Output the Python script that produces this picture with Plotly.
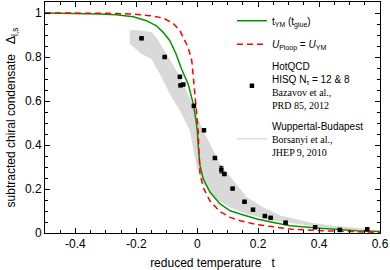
import plotly.graph_objects as go

# t_YM (t_glue) curve
green_x = [-0.5, -0.4, -0.32, -0.266, -0.21, -0.167, -0.134, -0.112, -0.09, -0.07, -0.051,
           -0.03, -0.013, -0.004, 0.0, 0.003, 0.009, 0.02, 0.042, 0.075, 0.108, 0.141,
           0.196, 0.25, 0.305, 0.415, 0.525, 0.6]
green_y = [1.0, 0.999, 0.996, 0.992, 0.983, 0.965, 0.942, 0.912, 0.874, 0.815, 0.743,
           0.677, 0.586, 0.51, 0.465, 0.397, 0.306, 0.245, 0.185, 0.132, 0.101, 0.086,
           0.064, 0.048, 0.033, 0.021, 0.010, 0.007]

# U_Ploop = U_YM curve
red_x = [-0.5, -0.3, -0.21, -0.156, -0.112, -0.079, -0.057, -0.04, -0.03, -0.018, -0.008,
         -0.002, 0.003, 0.005, 0.009, 0.02, 0.042, 0.075, 0.108, 0.141, 0.196, 0.25,
         0.305, 0.415, 0.525, 0.6]
red_y = [1.0, 0.999, 0.995, 0.988, 0.977, 0.953, 0.919, 0.874, 0.844, 0.783, 0.647,
         0.556, 0.465, 0.38, 0.27, 0.205, 0.145, 0.097, 0.071, 0.056, 0.038, 0.028,
         0.018, 0.010, 0.005, 0.003]

# HotQCD HISQ data
hot_x = [-0.183, -0.107, -0.057, -0.055, -0.046, -0.011, 0.022, 0.058, 0.079, 0.089,
         0.116, 0.155, 0.183, 0.222, 0.241, 0.29, 0.387, 0.468, 0.558]
hot_y = [0.885, 0.80, 0.71, 0.671, 0.675, 0.578, 0.467, 0.341, 0.288, 0.268,
         0.202, 0.142, 0.106, 0.077, 0.069, 0.047, 0.026, 0.014, 0.017]
hot_err = [0, 0, 0, 0, 0, 0, 0, 0, 0.015, 0, 0, 0, 0, 0, 0, 0, 0, 0, 0]

# Wuppertal-Budapest band (upper edge left->right, lower edge right->left)
band_up_x = [-0.222, -0.19, -0.15, -0.134, -0.101, -0.068, -0.035, -0.002, 0.02, 0.042,
             0.075, 0.119, 0.163, 0.218, 0.273, 0.371, 0.45, 0.55]
band_up_y = [0.922, 0.922, 0.912, 0.889, 0.814, 0.738, 0.647, 0.541, 0.465, 0.405,
             0.314, 0.238, 0.162, 0.116, 0.079, 0.048, 0.032, 0.02]
band_lo_x = [0.55, 0.45, 0.371, 0.25, 0.163, 0.108, 0.053, 0.02, -0.002, -0.013,
             -0.024, -0.057, -0.09, -0.123, -0.15, -0.183, -0.222]
band_lo_y = [0.012, 0.019, 0.033, 0.056, 0.086, 0.116, 0.162, 0.223, 0.298, 0.374,
             0.465, 0.556, 0.632, 0.723, 0.79, 0.814, 0.86]

FONT = "Liberation Sans, Arial, sans-serif"
SERIF = "Liberation Serif, Times New Roman, serif"

fig = go.Figure()

fig.add_trace(go.Scatter(
    x=band_up_x + band_lo_x, y=band_up_y + band_lo_y,
    fill="toself", fillcolor="rgb(217,217,217)", line=dict(width=0),
    mode="lines", showlegend=False, hoverinfo="skip"))

fig.add_trace(go.Scatter(
    x=green_x, y=green_y, mode="lines", legendgroup="g1",
    line=dict(color="rgb(0,150,0)", width=1.5),
    name="t<sub>YM</sub> (t<sub>glue</sub>)"))

fig.add_trace(go.Scatter(
    x=red_x, y=red_y, mode="lines", legendgroup="g2",
    line=dict(color="rgb(255,0,0)", width=1.5, dash="6px,4px"),
    name="<i>U</i><sub>Ploop</sub> = <i>U</i><sub>YM</sub>"))

fig.add_trace(go.Scatter(
    x=hot_x, y=hot_y, mode="markers", legendgroup="g3",
    marker=dict(symbol="square", size=4.5, color="black"),
    error_y=dict(type="data", array=hot_err, color="black", thickness=1, width=2),
    name=("HotQCD<br>HISQ N<sub>τ</sub> = 12 &amp; 8<br>"
          f"<span style='font-family:{SERIF}'>Bazavov et al.,</span><br>"
          f"<span style='font-family:{SERIF}'>PRD 85, 2012</span>")))

fig.add_trace(go.Scatter(
    x=[None], y=[None], mode="lines", legendgroup="g4",
    line=dict(color="rgb(220,220,220)", width=1.5),
    name=("Wuppertal-Budapest<br>"
          f"<span style='font-family:{SERIF}'>Borsanyi et al.,</span><br>"
          f"<span style='font-family:{SERIF}'>JHEP 9, 2010</span>")))

axis_common = dict(
    showline=True, linecolor="black", linewidth=1, mirror="allticks",
    ticks="inside", ticklen=5, tickwidth=1, tickcolor="black",
    showgrid=False, zeroline=False,
    tickfont=dict(family=FONT, size=12, color="black"),
    minor=dict(ticks="inside", ticklen=3, tickwidth=1, tickcolor="black", dtick=0.05),
)

fig.update_xaxes(
    range=[-0.5, 0.6], tickvals=[-0.4, -0.2, 0, 0.2, 0.4, 0.6],
    ticktext=["-0.4", "-0.2", "0", "0.2", "0.4", "0.6"],
    title=dict(text="reduced temperature   t", font=dict(family=FONT, size=12, color="black"),
               standoff=8),
    **axis_common)
fig.update_yaxes(
    range=[0, 1.05], tickvals=[0, 0.2, 0.4, 0.6, 0.8, 1.0],
    ticktext=["0", "0.2", "0.4", "0.6", "0.8", "1"],
    title=dict(text="subtracted chiral condensate   Δ<sub>l,s</sub>",
               font=dict(family=FONT, size=12, color="black"), standoff=6),
    **axis_common)

fig.update_layout(
    width=390, height=270,
    margin=dict(l=45, r=10, t=2, b=37),
    plot_bgcolor="white", paper_bgcolor="white",
    font=dict(family=FONT, size=10, color="black"),
    legend=dict(x=0.558, y=0.982, xanchor="left", yanchor="top",
                bgcolor="rgba(0,0,0,0)", borderwidth=0,
                font=dict(family=FONT, size=10, color="black"),
                tracegroupgap=4.5),
    showlegend=True,
)

fig.write_html("out.html", config={"displayModeBar": False},
               post_script="document.body.style.margin='0';document.body.style.padding='0';")
